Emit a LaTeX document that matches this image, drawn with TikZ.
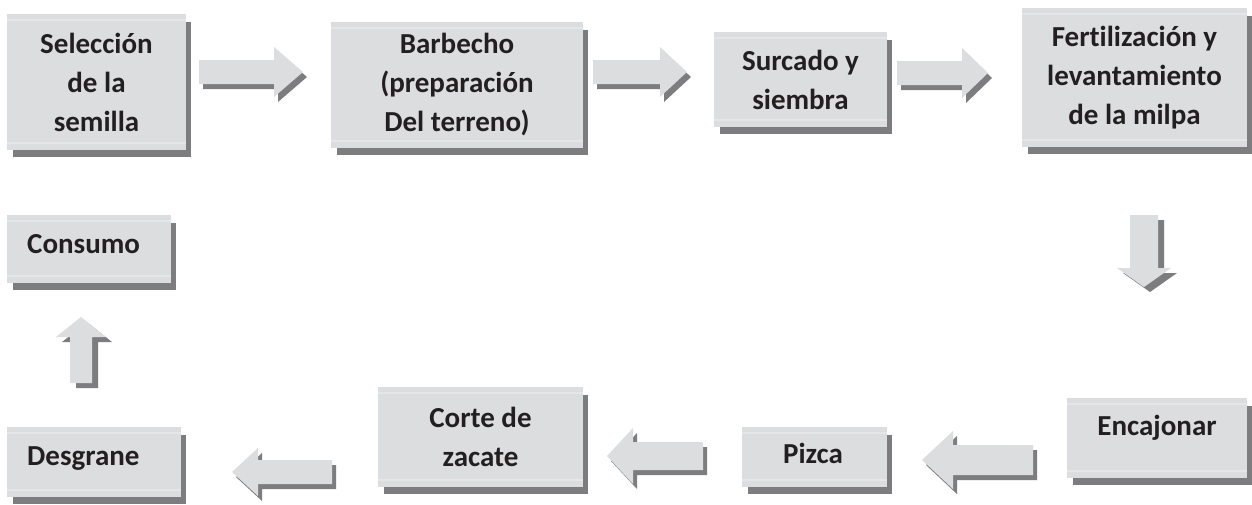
\documentclass[tikz,border=0pt]{standalone}
\usepackage{fontspec}
\setmainfont{Carlito}[RawFeature=-liga]
\definecolor{boxfill}{RGB}{220,221,223}
\definecolor{boxlight}{RGB}{229,230,232}
\definecolor{shadowgray}{RGB}{125,125,127}
\definecolor{ink}{RGB}{35,31,32}
\newcommand{\stepbox}[5]{%
  \fill[shadowgray] (#2+6,#3+8) rectangle (#4+5,#5+7);
  \node[boxshape, minimum width={#4-#2}, minimum height={#5-#3}] (#1) at (#2,#3) {};
  \draw[boxlight, line width=1.2pt] ([yshift=-6pt]#1.north west) -- ([yshift=-6pt]#1.north east);
  \draw[boxlight, line width=1.2pt] ([yshift=7pt]#1.south west) -- ([yshift=7pt]#1.south east);
}
\newcommand{\harr}[6]{%
  \fill[shadowgray, shift={(4,5)}] (#1,#4-#5) -- (#2,#4-#5) -- (#2,#4-#6) -- (#3,#4) -- (#2,#4+#6) -- (#2,#4+#5) -- (#1,#4+#5) -- cycle;
  \fill[boxfill] (#1,#4-#5) -- (#2,#4-#5) -- (#2,#4-#6) -- (#3,#4) -- (#2,#4+#6) -- (#2,#4+#5) -- (#1,#4+#5) -- cycle;
}
\newcommand{\varr}[6]{%
  \fill[shadowgray, shift={(6,5)}] (#1-#5,#2) -- (#1+#5,#2) -- (#1+#5,#3) -- (#1+#6,#3) -- (#1,#4) -- (#1-#6,#3) -- (#1-#5,#3) -- cycle;
  \fill[boxfill] (#1-#5,#2) -- (#1+#5,#2) -- (#1+#5,#3) -- (#1+#6,#3) -- (#1,#4) -- (#1-#6,#3) -- (#1-#5,#3) -- cycle;
}
\begin{document}
\begin{tikzpicture}[x=1pt,y=-1pt,
  boxshape/.style={fill=boxfill, draw=none, inner sep=0pt, outer sep=0pt, anchor=north west},
  lbl/.style={font=\fontsize{29}{39}\selectfont\bfseries, text=ink, align=center, inner sep=0pt}]
\useasboundingbox[fill=white] (0,0) rectangle (1252,504);
% boxes
\stepbox{sel}{7}{14}{186}{150}
\stepbox{bar}{331}{22}{583}{148}
\stepbox{sur}{714}{32}{887}{127}
\stepbox{fer}{1022}{8}{1247}{147}
\stepbox{con}{7}{215}{171}{283}
\stepbox{enc}{1067}{398}{1247}{478}
\stepbox{piz}{742}{427}{887}{487}
\stepbox{cor}{378}{387}{583}{487}
\stepbox{des}{7}{427}{181}{497}
% texts
\node[lbl] (selT) at (sel.center) {Selección\\de la\\semilla};
\node[lbl] (barT) at (bar.center) {Barbecho\\(preparación\\Del terreno)};
\node[lbl] (surT) at (sur.center) {Surcado y\\siembra};
\node[lbl] (ferT) at (fer.center) {Fertilización y\\levantamiento\\de la milpa};
\node[lbl, anchor=base west] (conT) at (27,253) {Consumo};
\node[lbl, anchor=base] (encT) at (1157,435) {Encajonar};
\node[lbl, anchor=base] (pizT) at (813,463) {Pizca};
\node[lbl] (corT) at (cor.center) {Corte de\\zacate};
\node[lbl, anchor=base west] (desT) at (27,465) {Desgrane};
% arrows
\harr{199}{274}{303}{72}{12}{25}
\harr{593}{660}{687}{72}{12}{25}
\harr{897}{962}{988}{73}{12}{25}
\varr{1144}{215}{268}{287}{14}{27}
\harr{1033}{953}{922}{460}{15}{29}
\harr{703}{633}{607}{456}{14}{28}
\harr{332}{258}{232}{472}{12}{24}
\varr{81}{383}{337}{317}{11}{25}
\end{tikzpicture}
\end{document}
